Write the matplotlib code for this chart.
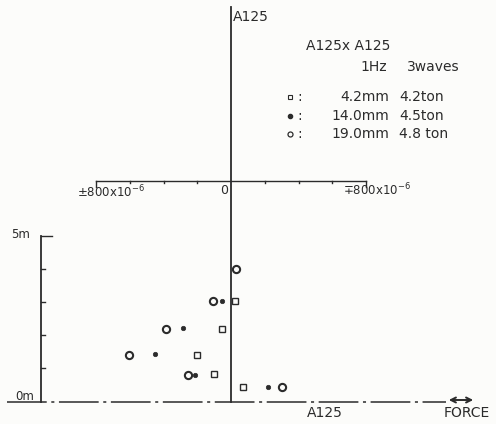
import matplotlib
matplotlib.use("Agg")
import matplotlib.pyplot as plt

# ---- data (strain in 1e-6, height in m) ----
sq_x = [24, -52, -200, -101, 69]          # 4.2 mm, 4.2 ton
sq_y = [3.03, 2.20, 1.41, 0.83, 0.43]
dot_x = [-52, -286, -450, -213, 217]      # 14.0 mm, 4.5 ton
dot_y = [3.03, 2.21, 1.44, 0.81, 0.44]
cir_x = [30, -108, -385, -604, -257, 300]  # 19.0 mm, 4.8 ton
cir_y = [3.99, 3.03, 2.18, 1.40, 0.81, 0.44]

strain_ticks = [-800, -600, -400, -200, 0, 200, 400, 600, 800]
height_ticks = [0, 1, 2, 3, 4, 5]

W, H = 496, 424
INK = "#2b2b2b"
BG = "#fcfcfa"

fig = plt.figure(figsize=(W / 100, H / 100), dpi=100, facecolor=BG)
ax = fig.add_axes([0, 0, 1, 1])
ax.set_facecolor(BG)
ax.axis("off")

sx = 800 / 135.0
sy = 33.1
ax.set_xlim(-231 * sx, (W - 231) * sx)
ax.set_ylim((401.5 - H) / sy, 401.5 / sy)

def fx(px):
    return px / W

def fy(py):
    return 1 - py / H

# vertical axis (A125 pile)
ax.plot([0, 0], [0, (401.5 - 7) / sy], color=INK, lw=1.3)

# top strain axis
ya = (401.5 - 181) / sy
ax.plot([strain_ticks[0], strain_ticks[-1]], [ya, ya], color=INK, lw=1.0)
for t in strain_ticks:
    if t == 0:
        continue
    L = 6 if abs(t) == 800 else 2.2
    ax.plot([t, t], [ya, ya - L / sy], color=INK, lw=1.0)

# left height scale
xs = -1126
ax.plot([xs, xs], [0, 5], color=INK, lw=1.3)
for h in height_ticks[1:]:
    L = 11 if h == 5 else 4
    ax.plot([xs, xs + L * sx], [h, h], color=INK, lw=1.0)

# bottom dash-dot line
ax.plot([-1327, 1275], [0, 0], color=INK, lw=1.1, dashes=[26, 3, 2, 3])

# data points
ax.plot(sq_x, sq_y, ls="none", marker="s", ms=3.8, mfc="none", mec=INK, mew=1.0)
ax.plot(dot_x, dot_y, ls="none", marker="o", ms=3.2, mfc=INK, mec=INK, mew=0.5)
ax.plot(cir_x, cir_y, ls="none", marker="o", ms=5.2, mfc="none", mec=INK, mew=1.5)

# texts
kw = dict(color=INK, transform=ax.transAxes, family="DejaVu Sans")
ax.text(fx(233), fy(17), "A125", fontsize=10, ha="left", va="center", **kw)
ax.text(fx(306), fy(46), "A125x A125", fontsize=10, ha="left", va="center", **kw)
ax.text(fx(387), fy(67), "1Hz", fontsize=10, ha="right", va="center", **kw)
ax.text(fx(407), fy(67), "3waves", fontsize=10, ha="left", va="center", **kw)

rows = [(97, "4.2mm", "4.2ton", "s"), (116, "14.0mm", "4.5ton", "dot"), (134, "19.0mm", "4.8 ton", "o")]
for py, a, b, m in rows:
    if m == "s":
        ax.plot([fx(290)], [fy(py)], marker="s", ms=3.2, mfc="none", mec=INK, mew=0.8, transform=ax.transAxes)
    elif m == "dot":
        ax.plot([fx(290)], [fy(py)], marker="o", ms=3.0, mfc=INK, mec=INK, transform=ax.transAxes)
    else:
        ax.plot([fx(290)], [fy(py)], marker="o", ms=3.6, mfc="none", mec=INK, mew=0.9, transform=ax.transAxes)
    ax.text(fx(297), fy(py), ":", fontsize=10, ha="left", va="center", **kw)
    ax.text(fx(389), fy(py), a, fontsize=10, ha="right", va="center", **kw)
    ax.text(fx(399), fy(py), b, fontsize=10, ha="left", va="center", **kw)

ax.text(fx(77), fy(192), "±800x10$^{-6}$", fontsize=8.5, ha="left", va="center", **kw)
ax.text(fx(224), fy(190), "0", fontsize=9, ha="center", va="center", **kw)
ax.text(fx(343), fy(190), "∓800x10$^{-6}$", fontsize=8.5, ha="left", va="center", **kw)

ax.text(fx(11), fy(235), "5m", fontsize=8.5, ha="left", va="center", **kw)
ax.text(fx(15), fy(396), "0m", fontsize=8.5, ha="left", va="center", **kw)

ax.text(fx(325), fy(413), "A125", fontsize=10, ha="center", va="center", **kw)
ax.text(fx(467), fy(413), "FORCE", fontsize=10, ha="center", va="center", **kw)
ax.annotate("", xy=(fx(446), fy(400)), xytext=(fx(476), fy(400)), xycoords="axes fraction",
            arrowprops=dict(arrowstyle="<->", color=INK, lw=1.4, mutation_scale=9))

fig.savefig("out.png", dpi=100, facecolor=BG)
